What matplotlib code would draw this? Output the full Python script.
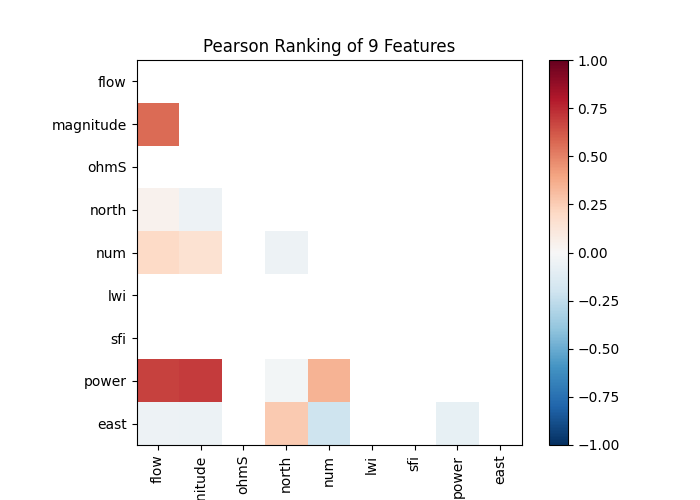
import matplotlib
matplotlib.use("Agg")
import matplotlib.pyplot as plt
import numpy as np

features = ["flow", "magnitude", "ohmS", "north", "num", "lwi", "sfi", "power", "east"]

# lower-triangle pearson values (row, below diagonal); nan = undefined
nan = np.nan
rows = [
    [],
    [0.57],
    [nan, nan],
    [0.04, -0.05, nan],
    [0.20, 0.15, nan, -0.05],
    [nan, nan, nan, nan, nan],
    [nan, nan, nan, nan, nan, nan],
    [0.68, 0.70, nan, -0.03, 0.35, nan, nan],
    [-0.05, -0.06, nan, 0.26, -0.21, nan, nan, -0.08],
]

n = len(features)
corr = np.full((n, n), np.nan)
for i, r in enumerate(rows):
    for j, v in enumerate(r):
        corr[i, j] = v
data = np.ma.masked_invalid(corr)

fig, ax = plt.subplots(figsize=(7, 5), dpi=100)
mesh = ax.pcolormesh(data, cmap="RdBu_r", vmin=-1, vmax=1)
ax.set_aspect("equal")
ax.set_xlim(0, n)
ax.set_ylim(n, 0)
ax.set_xticks(np.arange(n) + 0.5)
ax.set_xticklabels(features, rotation=90)
ax.set_yticks(np.arange(n) + 0.5)
ax.set_yticklabels(features)
ax.set_title("Pearson Ranking of 9 Features")
fig.colorbar(mesh, ax=ax)

fig.savefig("out.png")
